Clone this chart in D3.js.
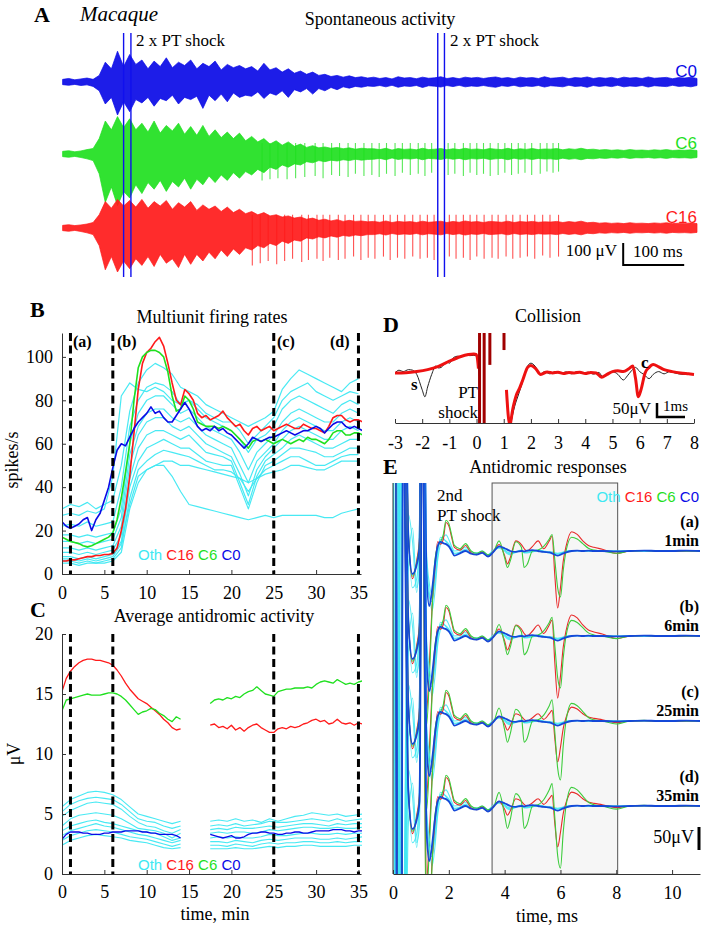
<!DOCTYPE html>
<html><head><meta charset="utf-8">
<script src="https://cdn.jsdelivr.net/npm/d3@7"></script>
<style>
body{margin:0;background:#fff}
svg{display:block}
text{font-family:"Liberation Serif","Times New Roman",serif;fill:#000}
.sans{font-family:"Liberation Sans",Arial,sans-serif}
</style></head><body>
<svg id="c" width="701" height="927"></svg>
<script>
// ---------------- DATA ----------------
// Panel A: spontaneous activity, per-10-ms signal extremes (µV), 0..1040 ms
const c0Up = [12,16,10,14,18,12, 30,90,60,140,70, 125,80,100,60,95,70,110,65,90,75, 100,60,85,70,95,55,80,65,75,60, 70,50,85,55,65,45,60,40,50,35, 45,30,35,25,30,22,28,20,24,18,
 22,16,20,14,24,18,20,15,22,17, 19,24,16,20,15,22,18,21,16,20, 23,17,20,15,22,18,20,16,24,17, 19,22,15,20,18,23,16,20,17,21, 15,22,18,20,16,23,17,19,21,15, 20,18,22,16];
const c0Lo = [-12,-15,-11,-16,-13,-20, -40,-100,-70,-150,-90, -135,-80,-95,-70,-110,-75,-85,-60,-100,-70, -80,-65,-120,-60,-85,-55,-90,-50,-70,-60, -65,-45,-75,-50,-60,-40,-70,-35,-45,-30, -55,-30,-40,-25,-35,-22,-28,-20,-24,-18,
 -20,-16,-22,-15,-24,-18,-20,-16,-25,-17, -19,-23,-16,-21,-15,-22,-18,-20,-16,-21, -24,-17,-20,-15,-22,-18,-20,-16,-23,-17, -19,-22,-15,-20,-18,-24,-16,-20,-17,-21, -15,-22,-18,-20,-16,-23,-17,-19,-21,-15, -20,-18,-22,-16];
const c6Up = [12,15,10,14,20,25, 70,150,110,170,120, 160,110,140,100,150,95,130,105,140,90, 125,85,130,80,110,75,100,70,95,60, 80,55,70,45,60,40,55,35,45,30, 38,28,32,26,30,24,28,22,26,24,
 24,20,26,18,25,21,23,19,26,20, 22,25,19,24,20,26,21,23,19,25, 22,20,26,19,24,21,25,20,23,22, 25,19,24,21,26,20,22,18,20,17, 19,16,20,17,18,16,19,17,20,16, 18,17,19,16];
const c6Lo = [-12,-15,-11,-16,-22,-30, -90,-220,-150,-235,-170, -200,-140,-180,-130,-160,-120,-170,-125,-150,-110, -160,-115,-140,-100,-130,-95,-120,-85,-110,-80, -95,-70,-85,-60,-70,-50,-60,-45,-50,-35, -40,-30,-35,-28,-32,-26,-30,-24,-28,-25,
 -24,-20,-26,-18,-25,-21,-23,-19,-26,-20, -22,-25,-19,-24,-20,-26,-21,-23,-19,-25, -22,-20,-26,-19,-24,-21,-25,-20,-23,-22, -25,-19,-24,-21,-26,-20,-22,-18,-20,-17, -19,-16,-20,-17,-18,-16,-19,-17,-20,-16, -18,-17,-19,-16];
const c16Up = [12,15,11,14,18,25, 60,120,90,130,100, 125,95,130,90,120,100,125,85,115,95, 120,80,105,85,100,75,95,70,85,65, 75,60,70,55,60,50,55,45,50,40, 45,35,40,32,38,30,35,30,32,28,
 30,26,32,25,30,27,29,25,31,26, 28,31,25,30,26,32,27,29,25,30, 28,26,31,25,29,27,30,26,28,27, 30,25,29,26,31,24,26,22,24,21, 23,20,24,21,22,20,23,21,24,20, 22,21,23,20];
const c16Lo = [-12,-15,-11,-16,-22,-30, -80,-190,-130,-200,-150, -185,-140,-170,-130,-175,-120,-160,-140,-180,-120, -165,-120,-150,-110,-140,-100,-130,-95,-120,-90, -100,-80,-90,-70,-80,-60,-70,-55,-60,-45, -50,-40,-45,-36,-42,-34,-38,-32,-35,-30,
 -30,-26,-32,-25,-30,-27,-29,-25,-31,-26, -28,-31,-25,-30,-26,-32,-27,-29,-25,-30, -28,-26,-31,-25,-29,-27,-30,-26,-28,-27, -30,-25,-29,-26,-31,-24,-26,-22,-24,-21, -23,-20,-24,-21,-22,-20,-23,-21,-24,-20, -22,-21,-23,-20];
const c6SpikeT = [327,340,353,368,382,397,414,427,441,454,468,480,494,507,519,531,545,557,570,583,594,605,632,643,657,668,679,690,701,714,725,736,747,758,769,783,794,804,813];
const c6SpikeAmp = [120,115,110,115,110,105,100,110,95,100,105,90,100,95,105,90,100,85,95,90,100,85,95,90,100,85,95,90,100,95,85,95,90,85,95,90,80,85,80];
const c16SpikeT = [311,324,337,351,364,377,392,403,417,427,438,452,463,477,489,501,512,526,537,549,561,574,586,598,609,634,645,657,668,679,691,704,714,727,738,750,762,774,787,799,813];
const c16SpikeAmp = [170,160,150,165,150,140,155,145,140,150,135,145,140,130,145,135,140,130,145,135,140,130,140,135,145,130,140,135,145,130,140,135,140,130,140,135,130,140,125,135,130];
const shockTimes = [100,112,615,626];

// Panel B: multiunit firing rates (spikes/s), every 0.5 min 0..35.5
const bC16 = [6,6,6.5,6.5,7,7.5,8,8,8.5,8.5,9,9,9.5, 12,20,30,45,65,85,97,102,104,107,109,105,97,88, 80,78,85,83,80,74,72,73,71,72,73,75,72,70, 68,69,66,64,67,68,66,67,68,66,67,68,69,68, 67,67,69,68,67,67,66,65,68,72,73,73,71,70,71,71,70];
const bC6 = [17,16,15,14.5,14,13,12.5,13,14,15,16,17,19, 25,35,47,60,80,95,100,102,103,103,102,100,93,82, 75,76,82,80,76,70,69,68,68,68,67,68,67,66, 64,62,60,58,61,62,61,62,61,60,61,62,61,60, 61,62,61,63,62,62,61,60,62,65,66,66,64,64,65,65,64];
const bC0 = [24,22,21,22,23,25,26,20,25,28,34,40,49, 57,60,59,63,67,70,72,74,77,74,75,72,70,70, 73,76,79,76,72,68,66,67,66,68,66,67,65,64, 62,60,58,60,63,62,61,62,63,63,64,65,66,65, 64,65,66,66,67,68,67,65,67,69,70,70,68,67,68,67,66];
// other channels, every 1 min 0..35
const bOth = [
 [30,32,31,33,30,32,34,50,75,88,94,97,95,92,86,84,82,78,76,74,72,70,68,70,72,75,85,90,94,92,90,88,86,84,88,90],
 [27,28,27,29,28,30,45,82,88,85,84,86,84,80,78,80,78,74,72,70,70,66,60,64,68,72,80,84,86,88,84,82,80,82,84,83],
 [22,23,22,24,22,23,24,40,68,80,86,88,87,84,78,80,76,72,70,68,66,62,56,62,64,68,76,80,82,80,78,76,74,78,80,78],
 [18,18,17,18,17,18,19,30,60,74,80,82,82,78,74,76,72,68,66,64,62,56,48,56,60,64,70,74,76,74,72,70,70,74,76,74],
 [15,15,14,15,14,15,16,26,55,68,74,76,76,72,70,72,68,64,62,60,58,50,42,52,56,60,66,70,72,70,68,66,66,70,72,70],
 [12,12,11,12,11,12,13,22,50,64,70,72,72,68,66,68,64,60,58,56,54,46,36,48,54,58,62,66,68,66,64,62,62,66,68,66],
 [10,10,9,10,9,10,11,18,44,58,64,66,66,64,62,64,60,56,55,54,52,42,32,45,52,55,58,62,64,62,60,58,58,60,62,62],
 [8,8,7,8,7,8,9,15,40,52,58,60,62,60,58,58,55,52,51,50,50,40,30,42,50,52,55,58,58,57,56,54,54,56,58,58],
 [6,6,5,6,5,6,7,12,35,48,52,55,57,56,55,54,52,50,48,48,47,44,38,44,48,50,52,54,54,52,50,50,52,54,55,55],
 [5,5,4,5,5,5,6,10,30,42,48,50,52,52,50,50,49,48,47,46,45,44,42,44,46,47,48,50,50,49,48,48,50,52,52,52],
 [7,7,6,7,6,7,8,14,32,45,48,50,50,45,38,32,31,30,29,28,27,26,25,26,27,26,27,27,27,27,27,26,26,28,29,30]
];
const markerTimes = [1, 6, 25, 35];
const markerLabels = ["(a)","(b)","(c)","(d)"];

// Panel C: average antidromic activity (µV); two recording segments
const cC16a = [15.2,16.3,16.9,17.3,17.6,17.8,17.9,17.9,17.8,17.8,17.7,17.6,17.4,17.0,16.5,15.9,15.4,15.0,14.6,14.4,14.2,13.9,13.6,13.3,12.9,12.6,12.2,12.0,12.1];
const cC16b = [12.4,12.5,12.2,12.3,12.1,12.4,12.0,12.2,11.9,12.2,12.4,12.5,12.2,12.0,11.8,11.8,12.1,12.2,12.1,12.3,12.2,12.3,12.5,12.6,12.8,12.9,12.7,12.8,12.5,12.6,12.9,12.6,12.5,12.6,12.4,12.6,12.5];
const cC6a = [13.6,14.5,14.6,14.7,14.8,14.9,15.0,14.9,14.9,14.9,15.0,15.1,15.1,15.0,14.8,14.5,14.1,13.7,13.3,13.5,13.6,13.8,13.7,13.4,13.2,12.9,12.7,13.1,12.9];
const cC6b = [14.2,14.5,14.6,14.5,14.7,14.6,14.8,14.7,15.0,15.2,15.3,15.6,15.3,15.0,14.9,14.8,15.2,15.3,15.4,15.4,15.5,15.5,15.5,15.6,15.5,15.8,16.0,16.1,16.0,15.9,16.2,16.0,15.8,15.9,15.8,16.0,16.1];
const cC0a = [2.9,3.3,3.5,3.5,3.5,3.4,3.4,3.3,3.3,3.3,3.4,3.4,3.5,3.5,3.5,3.6,3.6,3.6,3.6,3.5,3.5,3.4,3.4,3.3,3.3,3.3,3.3,3.2,3.0];
const cC0b = [3.3,3.2,3.1,3.0,3.1,3.2,3.0,3.0,3.1,3.3,3.4,3.4,3.5,3.5,3.4,3.4,3.3,3.3,3.4,3.4,3.5,3.5,3.4,3.4,3.5,3.6,3.6,3.6,3.6,3.7,3.7,3.7,3.6,3.6,3.5,3.6,3.6];
const cOthA = [
 [5.6,6.2,6.5,6.8,6.9,6.8,6.6,6.2,5.6,5.0,4.8,4.6,4.4,4.2,4.4],
 [5.2,5.8,6.1,6.3,6.4,6.3,6.2,5.8,5.2,4.6,4.4,4.3,4.0,3.8,4.0],
 [4.8,5.3,5.6,5.9,6.0,5.9,5.8,5.4,4.8,4.3,4.0,3.9,3.6,3.4,3.7],
 [4.0,4.6,4.9,5.0,5.1,5.0,4.9,4.6,4.2,3.8,3.7,3.6,3.4,3.0,3.4],
 [3.6,4.0,4.2,4.4,4.5,4.3,4.2,4.0,3.8,3.6,3.5,3.4,3.1,2.8,3.0],
 [3.2,3.6,3.8,4.0,4.2,4.0,3.9,3.7,3.5,3.3,3.2,3.0,2.8,2.6,2.8],
 [2.8,3.2,3.4,3.6,3.7,3.6,3.5,3.3,3.1,3.0,2.9,2.7,2.5,2.3,2.5],
 [2.4,2.8,3.0,3.2,3.3,3.2,3.1,3.0,2.8,2.7,2.6,2.4,2.2,2.1,2.2]
];
const cOthB = [
 [4.4,4.5,4.4,4.6,4.4,4.5,4.3,4.6,4.4,4.6,4.8,4.9,5.1,5.0,4.9,5.0,4.8,4.9,5.0],
 [4.0,4.1,4.0,4.2,4.0,4.1,4.2,4.4,4.3,4.3,4.4,4.5,4.6,4.5,4.4,4.6,4.4,4.5,4.6],
 [3.7,3.8,3.7,3.9,3.8,3.8,3.9,4.0,3.9,4.0,4.1,4.2,4.2,4.1,4.0,4.2,4.1,4.2,4.2],
 [3.4,3.5,3.4,3.5,3.5,3.4,3.5,3.7,3.6,3.7,3.8,3.9,3.9,3.8,3.8,3.9,3.8,3.8,3.9],
 [3.0,3.1,3.0,3.1,3.0,3.0,3.1,3.3,3.2,3.2,3.3,3.4,3.4,3.3,3.3,3.4,3.3,3.4,3.4],
 [2.7,2.7,2.6,2.8,2.7,2.6,2.8,2.9,2.8,2.9,3.0,3.0,3.0,2.9,2.9,3.0,2.9,3.0,3.1],
 [2.4,2.4,2.3,2.5,2.4,2.3,2.5,2.6,2.5,2.6,2.6,2.7,2.7,2.6,2.6,2.7,2.6,2.7,2.7],
 [2.1,2.1,2.1,2.2,2.1,2.1,2.2,2.3,2.2,2.3,2.3,2.4,2.4,2.3,2.3,2.3,2.3,2.4,2.4]
];

// Panel D: collision (ms, µV)
const dRedT = [-3,-2.6,-2.2,-1.8,-1.4,-1.0,-0.6,-0.3,-0.1,0.0,0.07];
const dRedV = [0,1,5,12,24,42,58,66,68,66,16];
const dRed2T = [1.1,1.22,1.34,1.46,1.58,1.7,1.88,2.0,2.18,2.36,2.6,2.8,3.0,3.2,3.4,3.6,3.8,4.0,4.2,4.4,4.6,4.8,5.0,5.2,5.4,5.6,5.75,5.85,5.95,6.05,6.2,6.35,6.5,6.7,6.9,7.2,7.5,7.8,8.0];
const dRed2V = [-60,-185,-125,-80,-55,-25,20,27,15,-5,4,0,3,-2,2,0,3,-2,2,0,-15,-5,5,8,5,15,25,-20,-85,-60,0,20,30,22,12,5,0,-3,-5];
const dBlkT = [-3,-2.85,-2.7,-2.5,-2.35,-2.2,-2.0,-1.9,-1.8,-1.65,-1.5,-1.4,-1.3,-1.1,-1.0,-0.85,-0.7,-0.55,-0.4,-0.25,-0.1,0.0,0.07,0.1];
const dBlkV = [0,10,5,12,10,-5,-60,-85,-50,-5,25,18,20,40,35,55,60,58,65,62,63,60,20,-10];
const dBlk2T = [1.25,1.4,1.55,1.7,1.85,2.0,2.15,2.35,2.5,2.7,2.9,3.1,3.3,3.5,3.7,3.9,4.1,4.3,4.5,4.65,4.8,5.0,5.2,5.4,5.55,5.7,5.85,6.0,6.15,6.35,6.5,6.7,6.9,7.1,7.3,7.6,8.0];
const dBlk2V = [-185,-120,-75,-30,20,35,25,-5,5,-3,5,-2,4,-3,5,-2,3,-4,2,-15,-3,5,-5,-25,-10,8,20,5,-5,-20,-5,5,-3,5,0,-5,-3];
const dArtT = [0.11, 0.28, 0.49, 1.01];
const dArtLow = [-185, -185, 29, 82];

// Panel E: antidromic responses, template waveforms (ms, µV)
const eT = [0,0.1,0.15,0.3,0.35,0.55,0.7,0.85,0.95,1.05,1.2,1.3,1.4,1.5,1.6,1.7,1.8,1.9,2.0,2.1,2.2,2.4,2.6,2.8,3.0,3.2,3.4,3.6,3.8,4.0,4.1,4.2,4.4,4.6,4.7,4.8,5.0,5.2,5.4,5.6,5.7,5.8,5.9,6.0,6.1,6.2,6.4,6.6,6.8,7.0,7.2,7.5,8.0,8.5,9.0,9.5,10.0,10.5,11.0];
const eC0 = [900,900,-900,-900,900,30,-50,-30,10,900,-50,-120,-85,-30,10,20,17,15,10,0,-10,-5,0,-6,-8,-4,-12,-2,10,6,3,0,-2,0,-1,1,2,0,-2,-3,-5,-8,-10,-8,-5,-3,0,1,0,1,0,0,-1,0,1,0,0,1,0];
const eC16 = [900,900,-900,-900,900,40,-60,-20,28,900,-350,-250,-120,-40,20,15,25,62,55,30,8,2,12,-4,-8,-2,-12,0,14,-10,-28,-15,22,14,5,0,10,22,5,22,32,-55,-124,-80,-22,10,42,36,22,12,8,4,-5,0,1,0,-1,0,0];
const eC6 = [900,900,-900,-900,900,35,-55,-25,20,900,-380,-280,-130,-20,10,20,35,67,60,35,12,5,16,0,-5,0,-8,-2,22,-15,-36,-22,20,8,-36,-30,0,2,10,26,36,-20,-80,-100,-42,0,30,26,16,6,2,0,-5,0,1,0,0,0,0];
const eOth = [
 [900,-900,-900,900,900,60,-80,-60,40,900,-30,-100,-110,-60,0,25,25,22,15,5,-5,-2,4,-4,-6,-2,-10,0,8,2,-2,-4,-2,2,-3,-2,0,2,0,-2,-2,-4,-5,-4,-2,0,1,0,1,0,0,0,-1,0,0,1,0,0,0],
 [-900,-900,900,900,-900,-40,50,-80,-40,900,-20,-90,-130,-90,-20,15,30,35,25,10,0,2,8,-2,-4,0,-8,2,6,0,-6,-8,-2,0,-4,-4,-2,0,-2,-4,-5,-6,-6,-5,-4,-2,0,1,0,0,0,1,0,0,-1,0,0,0,0],
 [900,900,900,-900,-900,80,20,-90,60,900,0,-70,-95,-70,-10,30,28,20,12,2,-6,-4,2,-5,-7,-3,-9,1,9,3,-4,-6,-3,1,-2,-3,-1,1,-1,-3,-4,-6,-7,-6,-3,-1,0,1,0,0,1,0,0,0,0,0,1,0,0]
];
const eGroups = ["(a)","(b)","(c)","(d)"];
const eGroupTimes = ["1min","6min","25min","35min"];
const eGainC16 = [1.0, 1.09, 0.72, 0.72];   // late-response size per group
const eGainC6 = [1.0, 1.13, 1.28, 1.35];

const legendNames = ["Oth","C16","C6","C0"];
const COL = {Oth:"#3ee8f2", C16:"#ff1a1a", C6:"#1fe01f", C0:"#0a0ae6"};

// ---------------- DRAWING ----------------
const svg = d3.select("#c");
const defs = svg.append("defs");
function clip(id,x,y,w,h){defs.append("clipPath").attr("id",id).append("rect").attr("x",x).attr("y",y).attr("width",w).attr("height",h);return "url(#"+id+")";}
function text(x,y,s,o={}){const t=svg.append("text").attr("x",x).attr("y",y).text(s).style("font-size",(o.size||18)+"px");if(o.anchor)t.attr("text-anchor",o.anchor);if(o.bold)t.style("font-weight","bold");if(o.italic)t.style("font-style","italic");if(o.cls)t.attr("class",o.cls);if(o.fill)t.style("fill",o.fill);if(o.rot)t.attr("transform",`rotate(-90,${x},${y})`);return t;}
function line(g,xs,ys,xS,yS,color,w,curve,op){g.append("path").datum(ys.map((v,i)=>[xs[i],v])).attr("d",d3.line().defined(d=>d[1]!=null).x(d=>xS(d[0])).y(d=>yS(d[1])).curve(curve||d3.curveLinear)).attr("fill","none").attr("stroke",color).attr("stroke-width",w).attr("stroke-opacity",op==null?1:op).attr("stroke-linejoin","round");}
function legend(x,y,anchor){const t=svg.append("text").attr("class","sans").attr("x",x).attr("y",y).style("font-size","15px");if(anchor)t.attr("text-anchor",anchor);legendNames.forEach((n,i)=>t.append("tspan").text((i?" ":"")+n).style("fill",COL[n]));}
function styleAxis(a){a.selectAll("text").style("font-size","18px").style("font-family","Liberation Serif");a.selectAll("path,line").attr("stroke","#333");}

// ===== Panel A =====
text(34,22,"A",{size:22,bold:true});
text(80,21,"Macaque",{size:21,italic:true});
text(380,25,"Spontaneous activity",{size:18,anchor:"middle"});
const tA = d3.range(0,1041,10);
const xA = d3.scaleLinear().domain([0,1040]).range([62.6,697]);
const chans = [
 {n:"C0",base:82,up:c0Up,lo:c0Lo},
 {n:"C6",base:154,up:c6Up,lo:c6Lo,spT:c6SpikeT,spA:c6SpikeAmp,spUp:50},
 {n:"C16",base:228,up:c16Up,lo:c16Lo,spT:c16SpikeT,spA:c16SpikeAmp,spUp:60}
];
const gA = svg.append("g");
chans.forEach(ch=>{
  const y = d3.scaleLinear().domain([-100,100]).range([ch.base+22,ch.base-22]);
  gA.append("path").datum(tA).attr("d",d3.area().x(t=>xA(t)).y0((t,i)=>y(ch.lo[i])).y1((t,i)=>y(ch.up[i])))
    .attr("fill",COL[ch.n]).attr("fill-opacity",0.92).attr("stroke",COL[ch.n]).attr("stroke-width",0.7);
  if(ch.spT){
    gA.selectAll(null).data(ch.spT).enter().append("line")
      .attr("x1",t=>xA(t)).attr("x2",t=>xA(t))
      .attr("y1",y(ch.spUp)).attr("y2",(t,i)=>y(-ch.spA[i]))
      .attr("stroke",COL[ch.n]).attr("stroke-width",1.1).attr("stroke-opacity",0.75);
  }
  text(697,ch.base-5,ch.n,{size:17,anchor:"end",cls:"sans",fill:COL[ch.n]});
});
shockTimes.forEach(t=>{
  gA.append("line").attr("x1",xA(t)).attr("x2",xA(t)).attr("y1",33).attr("y2",277).attr("stroke","#1010ee").attr("stroke-width",1.4);
});
text(136,46,"2 x PT shock",{size:17});
text(450,46,"2 x PT shock",{size:17});
text(617,256,"100 μV",{size:17,anchor:"end"});
svg.append("path").attr("d",`M${xA(919)},243V265H${xA(1019)}`).attr("fill","none").attr("stroke","#000").attr("stroke-width",2);
text(633,257,"100 ms",{size:17});

// ===== Panel B & C shared x =====
const xB = d3.scaleLinear().domain([0,35.3]).range([62,361]);
function axesBC(yS,yTicks,yBot,labPad){
  svg.append("g").attr("transform",`translate(0,${yBot})`).call(d3.axisBottom(xB).tickValues([0,5,10,15,20,25,30,35]).tickSize(-4).tickSizeOuter(0).tickPadding(labPad)).call(styleAxis);
  svg.append("g").attr("transform","translate(62,0)").call(d3.axisLeft(yS).tickValues(yTicks).tickSize(-4).tickSizeOuter(0).tickPadding(9)).call(styleAxis);
}
function markers(yTop,yBot){
  markerTimes.forEach(t=>svg.append("line").attr("x1",xB(t)).attr("x2",xB(t)).attr("y1",yTop).attr("y2",yBot).attr("stroke","#000").attr("stroke-width",3).attr("stroke-dasharray","8,4.5"));
}

// ===== Panel B =====
text(30,317,"B",{size:22,bold:true});
text(212,323,"Multiunit firing rates",{size:18,anchor:"middle"});
const yB = d3.scaleLinear().domain([0,111]).range([574,333]);
const gB = svg.append("g").attr("clip-path",clip("cb",62,333,300,241));
const tB = d3.range(0,35.51,0.5), tBo = d3.range(0,35.01,1);
bOth.forEach(s=>line(gB,tBo,s,xB,yB,COL.Oth,1.2,d3.curveLinear,0.95));
line(gB,tB,bC16,xB,yB,COL.C16,1.6);
line(gB,tB,bC6,xB,yB,COL.C6,1.6);
line(gB,tB,bC0,xB,yB,COL.C0,1.6);
axesBC(yB,[0,20,40,60,80,100],574,12);
markers(333,574);
[73,117,277,330].forEach((x,i)=>text(x,347,markerLabels[i],{size:16,bold:true}));
legend(138,560);
text(18,460,"spikes/s",{size:18,anchor:"middle",rot:true});

// ===== Panel C =====
text(30,617,"C",{size:22,bold:true});
text(214,622,"Average antidromic activity",{size:18,anchor:"middle"});
const yC = d3.scaleLinear().domain([0,20]).range([874,634]);
const gC = svg.append("g").attr("clip-path",clip("cc",62,634,300,240));
const tCa = d3.range(0,14.01,0.5), tCb = d3.range(17.5,35.51,0.5);
const tCoa = d3.range(0,14.01,1), tCob = d3.range(17.5,35.51,1);
cOthA.forEach(s=>line(gC,tCoa,s,xB,yC,COL.Oth,1.1,d3.curveLinear,0.95));
cOthB.forEach(s=>line(gC,tCob,s,xB,yC,COL.Oth,1.1,d3.curveLinear,0.95));
line(gC,tCa,cC16a,xB,yC,COL.C16,1.3); line(gC,tCb,cC16b,xB,yC,COL.C16,1.3);
line(gC,tCa,cC6a,xB,yC,COL.C6,1.3); line(gC,tCb,cC6b,xB,yC,COL.C6,1.3);
line(gC,tCa,cC0a,xB,yC,COL.C0,1.3); line(gC,tCb,cC0b,xB,yC,COL.C0,1.3);
axesBC(yC,[0,5,10,15,20],874,11);
markers(634,874);
legend(138,870);
text(20,754,"μV",{size:18,anchor:"middle",rot:true});
text(215,920,"time, min",{size:18,anchor:"middle"});

// ===== Panel D =====
text(383,332,"D",{size:22,bold:true});
text(548,322,"Collision",{size:18,anchor:"middle"});
const xD = d3.scaleLinear().domain([-3,8]).range([395,694]);
const yD = d3.scaleLinear().domain([0,100]).range([373,345]);
const gD = svg.append("g").attr("clip-path",clip("cd",395,333,306,90));
line(gD,dBlkT,dBlkV,xD,yD,"#222",1,d3.curveMonotoneX);
line(gD,dBlk2T,dBlk2V,xD,yD,"#222",1,d3.curveMonotoneX);
line(gD,dRedT,dRedV,xD,yD,"#ee1111",3,d3.curveMonotoneX);
line(gD,dRed2T,dRed2V,xD,yD,"#ee1111",3,d3.curveMonotoneX);
dArtT.forEach((t,i)=>gD.append("line").attr("x1",xD(t)).attr("x2",xD(t)).attr("y1",yD(200)).attr("y2",yD(dArtLow[i])).attr("stroke","#a00000").attr("stroke-width",3));
svg.append("g").attr("transform","translate(0,423)").call(d3.axisBottom(xD).tickValues(d3.range(-3,9)).tickFormat(d=>String(d)).tickSize(-4).tickSizeOuter(0).tickPadding(13)).call(styleAxis);
text(411,390,"s",{size:17,bold:true});
text(478,398,"PT",{size:17,anchor:"end"});
text(478,418,"shock",{size:17,anchor:"end"});
text(641,368,"c",{size:17,bold:true});
text(651,414,"50μV",{size:17,anchor:"end"});
svg.append("path").attr("d","M657,403V417H685").attr("fill","none").attr("stroke","#000").attr("stroke-width",2.5);
text(663,411,"1ms",{size:15});

// ===== Panel E =====
text(383,474,"E",{size:22,bold:true});
text(548,473,"Antidromic responses",{size:18,anchor:"middle"});
const xE = d3.scaleLinear().domain([0,11]).range([393,700]);
svg.append("rect").attr("x",xE(3.55)).attr("y",483).attr("width",xE(8.05)-xE(3.55)).attr("height",391).attr("fill","#f6f6f6").attr("stroke","#555").attr("stroke-width",1);
const gE = svg.append("g").attr("clip-path",clip("ce",393,483,308,391));
eGroups.forEach((g,gi)=>{
  const yb = 551+85*gi;
  const yS = d3.scaleLinear().domain([0,100]).range([yb,yb-46]);
  const late = (arr,gain)=>arr.map((v,i)=>eT[i]>=3.5?v*gain:v);
  eOth.forEach(s=>line(gE,eT,s,xE,yS,COL.Oth,1.1,d3.curveMonotoneX,0.85));
  line(gE,eT,late(eC16,eGainC16[gi]),xE,yS,"#e82a2a",1.1,d3.curveMonotoneX);
  line(gE,eT,late(eC6,eGainC6[gi]),xE,yS,"#3ccc3c",1.1,d3.curveMonotoneX);
  line(gE,eT,eC0,xE,yS,"#1448d8",1.8,d3.curveMonotoneX);
  text(699,yb-24,g,{size:16,bold:true,anchor:"end"});
  text(699,yb-5,eGroupTimes[gi],{size:16,bold:true,anchor:"end"});
});
svg.append("line").attr("x1",393).attr("x2",393).attr("y1",483).attr("y2",874).attr("stroke","#333");
svg.append("g").attr("transform","translate(0,874)").call(d3.axisBottom(xE).tickValues([0,2,4,6,8,10]).tickSize(-4).tickSizeOuter(0).tickPadding(12)).call(styleAxis);
text(437,501,"2nd",{size:17});
text(437,521,"PT shock",{size:17});
legend(699,502,"end");
text(694,843,"50μV",{size:18,anchor:"end"});
svg.append("line").attr("x1",699).attr("x2",699).attr("y1",827).attr("y2",850).attr("stroke","#000").attr("stroke-width",3);
text(547,922,"time, ms",{size:18,anchor:"middle"});
</script>
</body></html>
